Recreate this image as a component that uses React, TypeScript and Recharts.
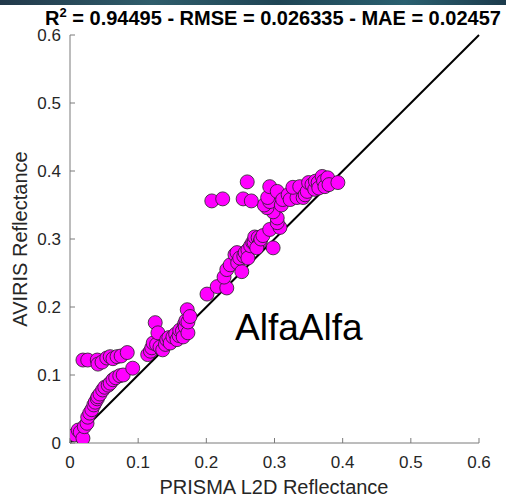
import React from "react";
import {
  ScatterChart,
  Scatter,
  XAxis,
  YAxis,
  ReferenceLine,
} from "recharts";

// PRISMA (x) vs AVIRIS (y) reflectance in groups
const lowX = [0.007, 0.012, 0.015, 0.019, 0.021, 0.025, 0.026, 0.029, 0.032, 0.035, 0.037, 0.04, 0.041, 0.044, 0.048, 0.051, 0.056, 0.059, 0.063, 0.067, 0.073, 0.078, 0.092];
const lowY = [0.012, 0.019, 0.016, 0.007, 0.024, 0.029, 0.038, 0.044, 0.049, 0.056, 0.06, 0.065, 0.068, 0.072, 0.078, 0.082, 0.085, 0.088, 0.093, 0.096, 0.099, 0.1, 0.11];

const rowX = [0.019, 0.026, 0.04, 0.041, 0.047, 0.054, 0.059, 0.063, 0.069, 0.075, 0.084];
const rowY = [0.122, 0.122, 0.122, 0.116, 0.119, 0.125, 0.127, 0.124, 0.127, 0.128, 0.133];

const midX = [0.114, 0.118, 0.12, 0.122, 0.125, 0.127, 0.129, 0.132, 0.136, 0.14, 0.142, 0.145, 0.147, 0.151, 0.155, 0.157, 0.16, 0.161, 0.165, 0.166, 0.168, 0.169, 0.17, 0.172, 0.173, 0.173, 0.176];
const midY = [0.13, 0.135, 0.14, 0.147, 0.177, 0.145, 0.162, 0.141, 0.137, 0.145, 0.152, 0.155, 0.147, 0.156, 0.16, 0.152, 0.158, 0.166, 0.165, 0.156, 0.175, 0.171, 0.18, 0.196, 0.162, 0.178, 0.186];

const upX = [0.201, 0.216, 0.23, 0.226, 0.23, 0.235, 0.242, 0.245, 0.246, 0.252, 0.249, 0.255, 0.257, 0.261, 0.261, 0.265, 0.268, 0.27, 0.271, 0.276, 0.279, 0.274, 0.28, 0.283, 0.298, 0.293, 0.308, 0.304, 0.304, 0.298, 0.289, 0.285, 0.293, 0.29, 0.293, 0.304];
const upY = [0.219, 0.23, 0.228, 0.244, 0.255, 0.262, 0.277, 0.28, 0.265, 0.252, 0.272, 0.275, 0.28, 0.284, 0.272, 0.29, 0.295, 0.295, 0.303, 0.302, 0.296, 0.287, 0.3, 0.305, 0.287, 0.314, 0.317, 0.324, 0.331, 0.34, 0.346, 0.35, 0.355, 0.361, 0.377, 0.37];

const outX = [0.208, 0.224, 0.254, 0.266, 0.26];
const outY = [0.356, 0.359, 0.359, 0.356, 0.384];

const topX = [0.31, 0.312, 0.32, 0.323, 0.333, 0.327, 0.337, 0.342, 0.345, 0.348, 0.35, 0.355, 0.359, 0.36, 0.364, 0.365, 0.37, 0.372, 0.374, 0.378, 0.38, 0.393];
const topY = [0.35, 0.358, 0.365, 0.358, 0.361, 0.376, 0.377, 0.361, 0.365, 0.37, 0.383, 0.38, 0.373, 0.385, 0.383, 0.375, 0.392, 0.385, 0.377, 0.39, 0.38, 0.383];

const xTicks = [0, 0.1, 0.2, 0.3, 0.4, 0.5, 0.6];
const yTicks = [0, 0.1, 0.2, 0.3, 0.4, 0.5, 0.6];

const xsAll = [...lowX, ...rowX, ...midX, ...upX, ...outX, ...topX];
const ysAll = [...lowY, ...rowY, ...midY, ...upY, ...outY, ...topY];
const points = xsAll.map((x, i) => ({ x, y: ysAll[i] }));

const FONT = "'Liberation Sans', Arial, sans-serif";
const TXT = "#262626";
const AXIS = "#7a7a7a";

const fmt = (v: number) => (v === 0 ? "0" : String(Number(v.toFixed(1))));

const XTick = (p: any) => (
  <g>
    <line x1={p.x} y1={p.y} x2={p.x} y2={p.y - 5} stroke={AXIS} />
    <text x={p.x} y={p.y + 25} textAnchor="middle" fontSize={17} fill={TXT} fontFamily={FONT}>
      {fmt(p.payload.value)}
    </text>
  </g>
);

const YTick = (p: any) => (
  <g>
    <line x1={p.x} y1={p.y} x2={p.x + 5} y2={p.y} stroke={AXIS} />
    <text x={p.x - 9} y={p.y + 6} textAnchor="end" fontSize={17} fill={TXT} fontFamily={FONT}>
      {fmt(p.payload.value)}
    </text>
  </g>
);

const Dot = (p: any) => (
  <circle cx={p.cx} cy={p.cy} r={7} fill="#ff00ff" stroke="#222" strokeWidth={0.8} />
);

export default function App() {
  return (
    <div style={{ position: "absolute", left: 0, top: 0, width: 506, height: 501, background: "#fff", overflow: "hidden" }}>
      <div
        style={{
          position: "absolute", left: 0, top: 0, width: 506, height: 5,
          background: "linear-gradient(90deg, #22394a, #2f5d6b 30%, #1f4555 55%, #2a6070 80%, #1c3b4c)",
        }}
      />
      <ScatterChart width={506} height={501} margin={{ top: 35, right: 27, bottom: 0, left: 0 }}>
        <XAxis
          type="number"
          dataKey="x"
          domain={[0, 0.6]}
          ticks={xTicks}
          height={58}
          stroke={AXIS}
          tickLine={false}
          tickSize={0}
          tickMargin={0}
          tick={<XTick />}
          allowDataOverflow
        />
        <YAxis
          type="number"
          dataKey="y"
          domain={[0, 0.6]}
          ticks={yTicks}
          width={70}
          stroke={AXIS}
          tickLine={false}
          tickSize={0}
          tickMargin={0}
          tick={<YTick />}
          allowDataOverflow
        />
        <Scatter data={points} shape={<Dot />} isAnimationActive={false} />
        <ReferenceLine
          segment={[{ x: 0, y: 0 }, { x: 0.6, y: 0.6 }]}
          stroke="#000"
          strokeWidth={2}
          ifOverflow="visible"
        />
      </ScatterChart>
      <div style={{ position: "absolute", left: 0, width: 546, top: 8, textAlign: "center", fontFamily: FONT, fontWeight: "bold", fontSize: 20, lineHeight: "20px", color: "#000", whiteSpace: "nowrap" }}>
        R<sup style={{ fontSize: 13, verticalAlign: "8px", lineHeight: 0 }}>2</sup> = 0.94495 - RMSE = 0.026335 - MAE = 0.02457
      </div>
      <div style={{ position: "absolute", left: 235, top: 309, fontFamily: FONT, fontSize: 37, lineHeight: "37px", color: "#000", whiteSpace: "nowrap" }}>
        AlfaAlfa
      </div>
      <div style={{ position: "absolute", left: 0, top: 477, width: 548, textAlign: "center", fontFamily: FONT, fontSize: 20, lineHeight: "20px", color: TXT, whiteSpace: "nowrap" }}>
        PRISMA L2D Reflectance
      </div>
      <div style={{ position: "absolute", left: 20, top: 239, width: 0, height: 0 }}>
        <div style={{ position: "absolute", left: -100, top: -10, width: 200, textAlign: "center", transform: "rotate(-90deg)", fontFamily: FONT, fontSize: 20, lineHeight: "20px", color: TXT, whiteSpace: "nowrap" }}>
          AVIRIS Reflectance
        </div>
      </div>
    </div>
  );
}
